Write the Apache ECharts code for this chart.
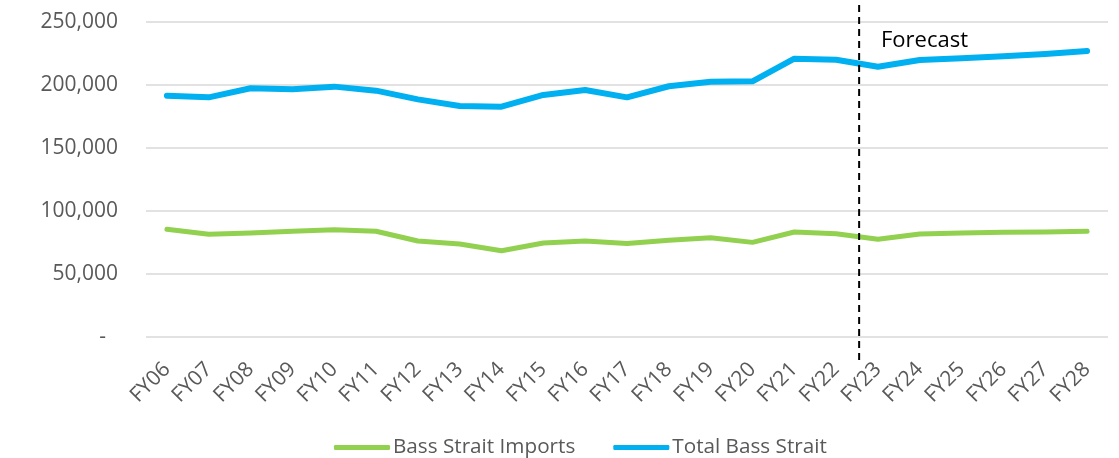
<!DOCTYPE html>
<html><head><meta charset="utf-8">
<script src="https://cdn.jsdelivr.net/npm/echarts@6/dist/echarts.min.js"></script>
<style>html,body{margin:0;padding:0;background:#fff}#c{width:1119px;height:458px}</style>
</head><body><div id="c"></div>
<script>
const categories = ['FY06','FY07','FY08','FY09','FY10','FY11','FY12','FY13','FY14','FY15','FY16','FY17','FY18','FY19','FY20','FY21','FY22','FY23','FY24','FY25','FY26','FY27','FY28'];
const importsValues = [85500,81500,82500,83900,85200,83900,76200,73800,68500,74600,76200,74300,76700,78800,75100,83300,82000,77500,81700,82500,83100,83300,83900];
const totalValues = [191500,190200,197400,196600,198700,195500,188600,183300,182800,192100,196000,190200,199000,202600,202900,220900,220100,214500,219800,221200,222800,224600,227000];
const yMin = 0, yMax = 250000, yStep = 50000;
const forecastStart = 'FY23';
const forecastLabel = 'Forecast';
const seriesNames = ['Bass Strait Imports', 'Total Bass Strait'];

const FONT = '"Open Sans", "Noto Sans", sans-serif';
const divX = categories.indexOf(forecastStart) - 0.45;

const chart = echarts.init(document.getElementById('c'), null, {renderer: 'canvas'});
chart.setOption({
  animation: false,
  backgroundColor: '#fff',
  grid: {left: 146, right: 11, top: 22, bottom: 121, containLabel: false},
  legend: {
    left: 334, top: 437, padding: 0,
    itemWidth: 56, itemHeight: 5, itemGap: 38,
    icon: 'roundRect',
    textStyle: {fontFamily: FONT, fontSize: 20.7, color: '#595959', padding: [0,0,0,-2]},
    data: seriesNames
  },
  xAxis: [{
    type: 'category', data: categories, boundaryGap: true,
    axisLine: {show: false}, axisTick: {show: false},
    axisLabel: {rotate: 45, fontFamily: FONT, fontSize: 21, color: '#595959', margin: 29, interval: 0,
      padding: [25, 0, 0, 0]}
  }, {
    type: 'value', show: false, min: -0.5, max: categories.length - 0.5
  }],
  yAxis: [{
    type: 'value', min: yMin, max: yMax, interval: yStep,
    axisLine: {show: false}, axisTick: {show: false},
    splitLine: {lineStyle: {color: '#d9d9d9', width: 1.5}},
    axisLabel: {
      fontFamily: FONT, fontSize: 21, color: '#595959', margin: 28,
      formatter: v => v === 0 ? '{z|-}' : v.toLocaleString('en-US'),
      rich: {z: {fontFamily: FONT, fontSize: 21, color: '#595959', padding: [0, 12, 0, 0]}}
    }
  }, {
    type: 'value', show: false, min: 0, max: 1
  }],
  series: [{
    name: seriesNames[0], type: 'line', data: importsValues, symbol: 'none',
    color: '#92D050',
    lineStyle: {width: 5, color: '#92D050', cap: 'round', join: 'round'}
  }, {
    name: seriesNames[1], type: 'line', data: totalValues, symbol: 'none',
    color: '#00B0F0',
    lineStyle: {width: 6, color: '#00B0F0', cap: 'round', join: 'round'}
  }, {
    name: 'divider', type: 'line', xAxisIndex: 1, yAxisIndex: 1, clip: false,
    symbol: 'none', silent: true,
    data: [[divX, -0.073], [divX, 1.06]],
    lineStyle: {color: '#000', width: 2, type: [7, 5]}
  }],
  graphic: [{
    type: 'text', left: 881, top: 30,
    style: {text: forecastLabel, fontFamily: FONT, fontSize: 22, fill: '#000'}
  }]
});
</script></body></html>
